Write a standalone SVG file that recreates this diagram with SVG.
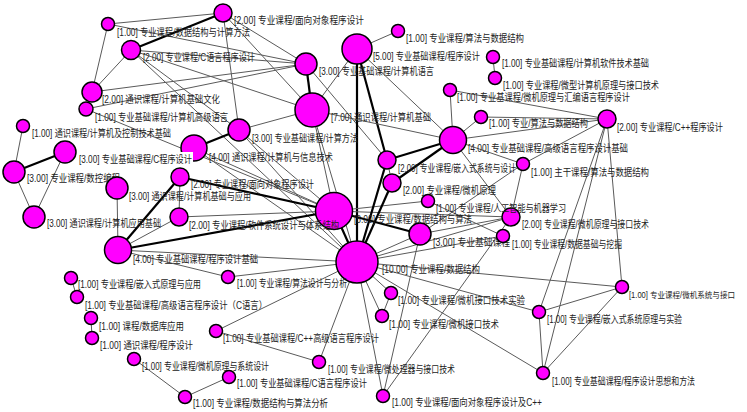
<svg xmlns="http://www.w3.org/2000/svg" width="747" height="412" viewBox="0 0 747 412">
<style>
.e{stroke:#5a5a5a;stroke-width:1;fill:none}
.t{stroke:#000;stroke-width:2.2;fill:none}
.n{fill:#ff00ff;stroke:#000;stroke-width:1.5}
.l{font-family:"Liberation Sans","Noto Sans CJK SC",sans-serif;font-size:10px;fill:#222}
.s{font-size:8.5px}
</style>
<rect width="747" height="412" fill="#fff"/>
<g id="connectors">
<line class="e" x1="108" y1="24" x2="223" y2="13"/>
<line class="t" x1="131" y1="50" x2="223" y2="13"/>
<line class="e" x1="108" y1="24" x2="92" y2="92"/>
<line class="e" x1="131" y1="50" x2="92" y2="92"/>
<line class="e" x1="92" y1="92" x2="306" y2="64"/>
<line class="e" x1="86" y1="109" x2="306" y2="64"/>
<line class="e" x1="223" y1="13" x2="306" y2="64"/>
<line class="e" x1="223" y1="13" x2="312" y2="110"/>
<line class="e" x1="223" y1="13" x2="239" y2="130"/>
<line class="e" x1="131" y1="50" x2="306" y2="64"/>
<line class="e" x1="131" y1="50" x2="239" y2="130"/>
<line class="e" x1="131" y1="50" x2="357" y2="262"/>
<line class="e" x1="108" y1="24" x2="306" y2="64"/>
<line class="e" x1="131" y1="50" x2="312" y2="110"/>
<line class="t" x1="306" y1="64" x2="312" y2="110"/>
<line class="e" x1="306" y1="64" x2="387" y2="160"/>
<line class="e" x1="357" y1="49" x2="398" y2="31"/>
<line class="t" x1="357" y1="49" x2="357" y2="262"/>
<line class="t" x1="357" y1="49" x2="387" y2="160"/>
<line class="e" x1="357" y1="49" x2="453" y2="140"/>
<line class="e" x1="357" y1="49" x2="312" y2="110"/>
<line class="e" x1="312" y1="110" x2="239" y2="130"/>
<line class="e" x1="312" y1="110" x2="334" y2="211"/>
<line class="e" x1="312" y1="110" x2="357" y2="262"/>
<line class="e" x1="312" y1="110" x2="453" y2="140"/>
<line class="t" x1="194" y1="148" x2="239" y2="130"/>
<line class="e" x1="239" y1="130" x2="357" y2="262"/>
<line class="e" x1="239" y1="130" x2="334" y2="211"/>
<line class="e" x1="194" y1="148" x2="334" y2="211"/>
<line class="e" x1="194" y1="148" x2="357" y2="262"/>
<line class="e" x1="86" y1="109" x2="334" y2="211"/>
<line class="t" x1="180" y1="177" x2="334" y2="211"/>
<line class="e" x1="179" y1="217" x2="334" y2="211"/>
<line class="t" x1="118" y1="250" x2="334" y2="211"/>
<line class="e" x1="118" y1="250" x2="357" y2="262"/>
<line class="e" x1="118" y1="250" x2="228" y2="277"/>
<line class="e" x1="228" y1="277" x2="357" y2="262"/>
<line class="t" x1="118" y1="250" x2="180" y2="177"/>
<line class="e" x1="118" y1="250" x2="179" y2="217"/>
<line class="e" x1="118" y1="250" x2="117" y2="188"/>
<line class="e" x1="180" y1="177" x2="179" y2="217"/>
<line class="t" x1="14" y1="172" x2="65" y2="152"/>
<line class="e" x1="14" y1="172" x2="34" y2="217"/>
<line class="e" x1="65" y1="152" x2="34" y2="217"/>
<line class="e" x1="23" y1="126" x2="14" y2="172"/>
<line class="e" x1="453" y1="140" x2="450" y2="90"/>
<line class="e" x1="453" y1="140" x2="607" y2="119"/>
<line class="e" x1="453" y1="140" x2="481" y2="117"/>
<line class="e" x1="453" y1="140" x2="523" y2="164"/>
<line class="t" x1="453" y1="140" x2="387" y2="160"/>
<line class="t" x1="453" y1="140" x2="392" y2="183"/>
<line class="e" x1="453" y1="140" x2="511" y2="217"/>
<line class="e" x1="450" y1="90" x2="607" y2="119"/>
<line class="e" x1="481" y1="117" x2="607" y2="119"/>
<line class="e" x1="523" y1="164" x2="607" y2="119"/>
<line class="e" x1="607" y1="119" x2="622" y2="287"/>
<line class="e" x1="607" y1="119" x2="539" y2="312"/>
<line class="e" x1="607" y1="119" x2="543" y2="373"/>
<line class="e" x1="622" y1="287" x2="539" y2="312"/>
<line class="e" x1="622" y1="287" x2="543" y2="373"/>
<line class="e" x1="539" y1="312" x2="543" y2="373"/>
<line class="e" x1="357" y1="262" x2="622" y2="287"/>
<line class="e" x1="357" y1="262" x2="539" y2="312"/>
<line class="e" x1="357" y1="262" x2="543" y2="373"/>
<line class="e" x1="357" y1="262" x2="391" y2="293"/>
<line class="e" x1="357" y1="262" x2="382" y2="316"/>
<line class="e" x1="391" y1="293" x2="382" y2="316"/>
<line class="e" x1="357" y1="262" x2="383" y2="396"/>
<line class="e" x1="357" y1="262" x2="319" y2="362"/>
<line class="e" x1="357" y1="262" x2="216" y2="331"/>
<line class="e" x1="216" y1="331" x2="319" y2="362"/>
<line class="e" x1="383" y1="396" x2="420" y2="234"/>
<line class="e" x1="383" y1="396" x2="511" y2="217"/>
<line class="t" x1="334" y1="211" x2="420" y2="234"/>
<line class="t" x1="334" y1="211" x2="357" y2="262"/>
<line class="e" x1="334" y1="211" x2="428" y2="201"/>
<line class="e" x1="334" y1="211" x2="511" y2="217"/>
<line class="t" x1="387" y1="160" x2="357" y2="262"/>
<line class="t" x1="392" y1="183" x2="357" y2="262"/>
<line class="e" x1="387" y1="160" x2="392" y2="183"/>
<line class="e" x1="523" y1="164" x2="511" y2="217"/>
<line class="e" x1="420" y1="234" x2="523" y2="164"/>
<line class="e" x1="428" y1="201" x2="503" y2="236"/>
<line class="e" x1="357" y1="262" x2="511" y2="217"/>
<line class="e" x1="420" y1="234" x2="511" y2="217"/>
<line class="e" x1="357" y1="262" x2="503" y2="236"/>
<line class="e" x1="357" y1="262" x2="420" y2="234"/>
<line class="e" x1="493" y1="57" x2="495" y2="78"/>
<line class="e" x1="71" y1="278" x2="77" y2="297"/>
<line class="e" x1="91" y1="318" x2="92" y2="338"/>
<line class="e" x1="134" y1="359" x2="185" y2="397"/>
<line class="e" x1="185" y1="397" x2="229" y2="377"/>
</g>
<g id="n25"><circle class="n" cx="357" cy="262" r="21"/><text class="l" x="382" y="273" textLength="98" lengthAdjust="spacingAndGlyphs">[10.00] 专业课程/数据结构</text></g>
<g id="n21"><circle class="n" cx="334" cy="211" r="18.5"/><text class="l" x="354" y="223" textLength="118" lengthAdjust="spacingAndGlyphs">[8.00] 专业课程/数据结构与算法</text></g>
<g id="n10"><circle class="n" cx="312" cy="110" r="17"/><text class="l" x="331" y="121" textLength="100" lengthAdjust="spacingAndGlyphs">[7.00] 通识课程/计算机基础</text></g>
<g id="n8"><circle class="n" cx="357" cy="49" r="15"/><text class="l" x="373" y="60" textLength="107" lengthAdjust="spacingAndGlyphs">[5.00] 专业基础课程/程序设计</text></g>
<g id="n16"><circle class="n" cx="453" cy="140" r="13.5"/><text class="l" x="468" y="152" textLength="160" lengthAdjust="spacingAndGlyphs">[4.00] 专业基础课程/高级语言程序设计基础</text></g>
<g id="n26"><circle class="n" cx="194" cy="148" r="13"/><text class="l" x="209" y="161" textLength="124" lengthAdjust="spacingAndGlyphs">[4.00] 通识课程/计算机与信息技术</text></g>
<g id="n33"><circle class="n" cx="118" cy="250" r="13.5"/><text class="l" x="133" y="263" textLength="125" lengthAdjust="spacingAndGlyphs">[4.00] 专业基础课程/程序设计基础</text></g>
<g id="n50"><circle class="n" cx="239" cy="130" r="11"/><text class="l" x="252" y="142" textLength="106" lengthAdjust="spacingAndGlyphs">[3.00] 专业基础课程/计算方法</text></g>
<g id="n7"><circle class="n" cx="306" cy="64" r="11"/><text class="l" x="319" y="75" textLength="115" lengthAdjust="spacingAndGlyphs">[3.00] 专业基础课程/计算机语言</text></g>
<g id="n22"><circle class="n" cx="420" cy="234" r="11"/><text class="l" x="433" y="246" textLength="77" lengthAdjust="spacingAndGlyphs">[3.00] 专业基础课程</text></g>
<g id="n28"><circle class="n" cx="14" cy="172" r="11"/><text class="l" x="27" y="182" textLength="93" lengthAdjust="spacingAndGlyphs">[3.00] 专业课程/数控编程</text></g>
<g id="n27"><circle class="n" cx="65" cy="152" r="11"/><rect x="78" y="152" width="115" height="13" fill="#fff"/><text class="l" x="79" y="163" textLength="113" lengthAdjust="spacingAndGlyphs">[3.00] 专业基础课程/C程序设计</text></g>
<g id="n29"><circle class="n" cx="34" cy="217" r="11"/><text class="l" x="47" y="227" textLength="114" lengthAdjust="spacingAndGlyphs">[3.00] 通识课程/计算机应用基础</text></g>
<g id="n30"><circle class="n" cx="117" cy="188" r="11"/><text class="l" x="129" y="200" textLength="122" lengthAdjust="spacingAndGlyphs">[3.00] 通识课程/计算机基础与应用</text></g>
<g id="n1"><circle class="n" cx="223" cy="13" r="9"/><text class="l" x="234" y="24" textLength="130" lengthAdjust="spacingAndGlyphs">[2.00] 专业课程/面向对象程序设计</text></g>
<g id="n3"><circle class="n" cx="131" cy="50" r="9.5"/><text class="l" x="143" y="61" textLength="112" lengthAdjust="spacingAndGlyphs">[2.00] 专业课程/C语言程序设计</text></g>
<g id="n4"><circle class="n" cx="92" cy="92" r="10"/><text class="l" x="102" y="103" textLength="118" lengthAdjust="spacingAndGlyphs">[2.00] 通识课程/计算机基础文化</text></g>
<g id="n15"><circle class="n" cx="607" cy="119" r="9"/><text class="l" x="617" y="131" textLength="106" lengthAdjust="spacingAndGlyphs">[2.00] 专业课程/C++程序设计</text></g>
<g id="n18"><circle class="n" cx="387" cy="160" r="9"/><text class="l" x="398" y="172" textLength="118" lengthAdjust="spacingAndGlyphs">[2.00] 专业课程/嵌入式系统与设计</text></g>
<g id="n19"><circle class="n" cx="392" cy="183" r="9"/><text class="l" x="403" y="194" textLength="93" lengthAdjust="spacingAndGlyphs">[2.00] 专业课程/微机原理</text></g>
<g id="n24"><circle class="n" cx="511" cy="217" r="9"/><text class="l" x="522" y="228" textLength="127" lengthAdjust="spacingAndGlyphs">[2.00] 专业课程/微机原理与接口技术</text></g>
<g id="n31"><circle class="n" cx="180" cy="177" r="9"/><text class="l" x="191" y="188" textLength="123" lengthAdjust="spacingAndGlyphs">[2.00] 专业课程/面向对象程序设计</text></g>
<g id="n32"><circle class="n" cx="179" cy="217" r="9"/><text class="l" x="189" y="229" textLength="150" lengthAdjust="spacingAndGlyphs">[2.00] 专业课程/软件系统设计与体系结构</text></g>
<g id="n2"><circle class="n" cx="108" cy="24" r="6.5"/><text class="l" x="117" y="36" textLength="133" lengthAdjust="spacingAndGlyphs">[1.00] 专业课程/数据结构与计算方法</text></g>
<g id="n5"><circle class="n" cx="86" cy="109" r="7"/><text class="l" x="95" y="121" textLength="133" lengthAdjust="spacingAndGlyphs">[1.00] 专业基础课程/计算机高级语言</text></g>
<g id="n6"><circle class="n" cx="23" cy="126" r="6.5"/><text class="l" x="32" y="137" textLength="139" lengthAdjust="spacingAndGlyphs">[1.00] 通识课程/计算机及控制技术基础</text></g>
<g id="n9"><circle class="n" cx="398" cy="31" r="6.5"/><text class="l" x="406" y="42" textLength="118" lengthAdjust="spacingAndGlyphs">[1.00] 专业课程/算法与数据结构</text></g>
<g id="n11"><circle class="n" cx="493" cy="57" r="6.5"/><text class="l" x="502" y="67" textLength="147" lengthAdjust="spacingAndGlyphs">[1.00] 专业基础课程/计算机软件技术基础</text></g>
<g id="n12"><circle class="n" cx="495" cy="78" r="6.5"/><text class="l" x="503" y="89" textLength="156" lengthAdjust="spacingAndGlyphs">[1.00] 专业课程/微型计算机原理与接口技术</text></g>
<g id="n13"><circle class="n" cx="450" cy="90" r="6.5"/><text class="l" x="457" y="101" textLength="173" lengthAdjust="spacingAndGlyphs">[1.00] 专业基课程/微机原理与汇编语言程序设计</text></g>
<g id="n14"><circle class="n" cx="481" cy="117" r="6.5"/><text class="l" x="489" y="127" textLength="99" lengthAdjust="spacingAndGlyphs">[1.00] 专业/算法与数据结构</text></g>
<g id="n20"><circle class="n" cx="428" cy="201" r="6.5"/><text class="l" x="436" y="212" textLength="130" lengthAdjust="spacingAndGlyphs">[1.00] 专业课程/人工智能与机器学习</text></g>
<g id="n17"><circle class="n" cx="523" cy="164" r="6.5"/><text class="l" x="531" y="176" textLength="118" lengthAdjust="spacingAndGlyphs">[1.00] 主干课程/算法与数据结构</text></g>
<g id="n23"><circle class="n" cx="503" cy="236" r="6.5"/><text class="l" x="512" y="248" textLength="110" lengthAdjust="spacingAndGlyphs">[1.00] 专业课程/数据基础与挖掘</text></g>
<g id="n34"><circle class="n" cx="228" cy="277" r="6.5"/><text class="l" x="237" y="287" textLength="110" lengthAdjust="spacingAndGlyphs">[1.00] 专业课程/算法设计与分析</text></g>
<g id="n35"><circle class="n" cx="71" cy="278" r="6.5"/><text class="l" x="78" y="288" textLength="123" lengthAdjust="spacingAndGlyphs">[1.00] 专业课程/嵌入式原理与应用</text></g>
<g id="n36"><circle class="n" cx="77" cy="297" r="6.5"/><text class="l" x="85" y="309" textLength="182" lengthAdjust="spacingAndGlyphs">[1.00] 专业基础课程/高级语言程序设计（C语言）</text></g>
<g id="n37"><circle class="n" cx="91" cy="318" r="6.5"/><text class="l" x="99" y="330" textLength="85" lengthAdjust="spacingAndGlyphs">[1.00] 课程/数据库应用</text></g>
<g id="n38"><circle class="n" cx="92" cy="338" r="6.5"/><text class="l" x="100" y="349" textLength="93" lengthAdjust="spacingAndGlyphs">[1.00] 通识课程/程序设计</text></g>
<g id="n39"><circle class="n" cx="134" cy="359" r="6.5"/><text class="l" x="142" y="370" textLength="127" lengthAdjust="spacingAndGlyphs">[1.00] 专业课程/微机原理与系统设计</text></g>
<g id="n40"><circle class="n" cx="229" cy="377" r="6.5"/><text class="l" x="237" y="387" textLength="130" lengthAdjust="spacingAndGlyphs">[1.00] 专业基础课程/C语言程序设计</text></g>
<g id="n41"><circle class="n" cx="185" cy="397" r="6.5"/><text class="l" x="193" y="407" textLength="135" lengthAdjust="spacingAndGlyphs">[1.00] 专业课程/数据结构与算法分析</text></g>
<g id="n42"><circle class="n" cx="216" cy="331" r="6.5"/><text class="l" x="223" y="342" textLength="156" lengthAdjust="spacingAndGlyphs">[1.00] 专业基础课程/C++高级语言程序设计</text></g>
<g id="n43"><circle class="n" cx="319" cy="362" r="6.5"/><text class="l" x="328" y="373" textLength="127" lengthAdjust="spacingAndGlyphs">[1.00] 专业课程/微处理器与接口技术</text></g>
<g id="n44"><circle class="n" cx="383" cy="396" r="6.5"/><text class="l" x="392" y="406" textLength="150" lengthAdjust="spacingAndGlyphs">[1.00] 专业课程/面向对象程序设计及C++</text></g>
<g id="n45"><circle class="n" cx="391" cy="293" r="6.5"/><text class="l" x="398" y="304" textLength="127" lengthAdjust="spacingAndGlyphs">[1.00] 专业课程/微机接口技术实验</text></g>
<g id="n46"><circle class="n" cx="382" cy="316" r="6.5"/><text class="l" x="389" y="328" textLength="110" lengthAdjust="spacingAndGlyphs">[1.00] 专业课程/微机接口技术</text></g>
<g id="n47"><circle class="n" cx="622" cy="287" r="6.5"/><text class="l s" x="629" y="298" textLength="106" lengthAdjust="spacingAndGlyphs">[1.00] 专业课程/微机系统与接口</text></g>
<g id="n48"><circle class="n" cx="539" cy="312" r="6.5"/><text class="l" x="547" y="323" textLength="135" lengthAdjust="spacingAndGlyphs">[1.00] 专业课程/嵌入式系统原理与实验</text></g>
<g id="n49"><circle class="n" cx="543" cy="373" r="6.5"/><text class="l" x="552" y="385" textLength="143" lengthAdjust="spacingAndGlyphs">[1.00] 专业基础课程/程序设计思想和方法</text></g>
</svg>
